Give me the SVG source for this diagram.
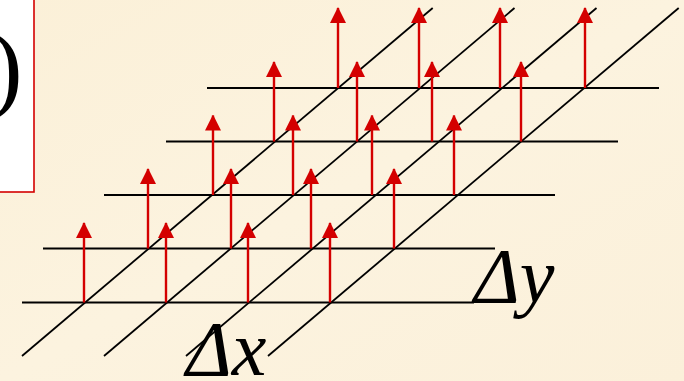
<svg xmlns="http://www.w3.org/2000/svg" width="684" height="381" viewBox="0 0 684 381">
<defs>
<linearGradient id="bg" x1="0" y1="0" x2="1" y2="1">
<stop offset="0" stop-color="#FBF0D8"/>
<stop offset="0.5" stop-color="#FCF3DF"/>
<stop offset="1" stop-color="#FBF0DA"/>
</linearGradient>
<marker id="ah" markerUnits="userSpaceOnUse" markerWidth="16" markerHeight="16" viewBox="0 0 16 16" refX="15" refY="8" orient="auto">
<path d="M0,0 L16,8 L0,16 Z" fill="#D40000"/>
</marker>
</defs>
<style>
.h{stroke:#000;stroke-width:2.2;fill:none}
.d{stroke:#000;stroke-width:1.8;fill:none}
.a{stroke:#D40000;stroke-width:2.4;fill:none;marker-end:url(#ah)}
.lbl{font-family:"Liberation Serif","Times New Roman",serif;font-style:italic;fill:#000}
</style>
<rect width="684" height="381" fill="url(#bg)"/>
<g id="box">
<rect x="-2" y="-2" width="36" height="194" fill="#FFFFFF" stroke="#D40000" stroke-width="1.6"/>
<text x="-10" y="100" font-family="'Liberation Serif','Times New Roman',serif" font-size="98" fill="#000">)</text>
</g>
<g id="grid">
<line class="h" x1="22" y1="302.5" x2="474" y2="302.5"/>
<line class="h" x1="43" y1="248.5" x2="495" y2="248.5"/>
<line class="h" x1="104" y1="195" x2="555" y2="195" stroke-width="3"/>
<line class="h" x1="166" y1="141.5" x2="618" y2="141.5"/>
<line class="h" x1="207" y1="88" x2="659" y2="88"/>
<line class="d" x1="22" y1="356" x2="432.7" y2="8"/>
<line class="d" x1="104" y1="356" x2="514.5" y2="8"/>
<line class="d" x1="186" y1="356" x2="596.5" y2="8"/>
<line class="d" x1="268" y1="356" x2="678.7" y2="8"/>
</g>
<g id="arrows">
<line class="a" x1="84" y1="302.5" x2="84" y2="223"/>
<line class="a" x1="166" y1="302.5" x2="166" y2="223"/>
<line class="a" x1="248" y1="302.5" x2="248" y2="223"/>
<line class="a" x1="330" y1="302.5" x2="330" y2="223"/>
<line class="a" x1="148" y1="248.5" x2="148" y2="169"/>
<line class="a" x1="231" y1="248.5" x2="231" y2="169"/>
<line class="a" x1="311" y1="248.5" x2="311" y2="169"/>
<line class="a" x1="394" y1="248.5" x2="394" y2="169"/>
<line class="a" x1="213" y1="195" x2="213" y2="115.5"/>
<line class="a" x1="293" y1="195" x2="293" y2="115.5"/>
<line class="a" x1="372" y1="195" x2="372" y2="115.5"/>
<line class="a" x1="454" y1="195" x2="454" y2="115.5"/>
<line class="a" x1="274" y1="141.5" x2="274" y2="62"/>
<line class="a" x1="357" y1="141.5" x2="357" y2="62"/>
<line class="a" x1="432" y1="141.5" x2="432" y2="62"/>
<line class="a" x1="521" y1="141.5" x2="521" y2="62"/>
<line class="a" x1="338" y1="88" x2="338" y2="8"/>
<line class="a" x1="419" y1="88" x2="419" y2="8"/>
<line class="a" x1="500" y1="88" x2="500" y2="8"/>
<line class="a" x1="585" y1="88" x2="585" y2="8"/>
</g>
<g id="labels">
<text class="lbl" x="186" y="375" font-size="78">Δx</text>
<text class="lbl" x="474" y="302" font-size="78">Δy</text>
</g>
</svg>
